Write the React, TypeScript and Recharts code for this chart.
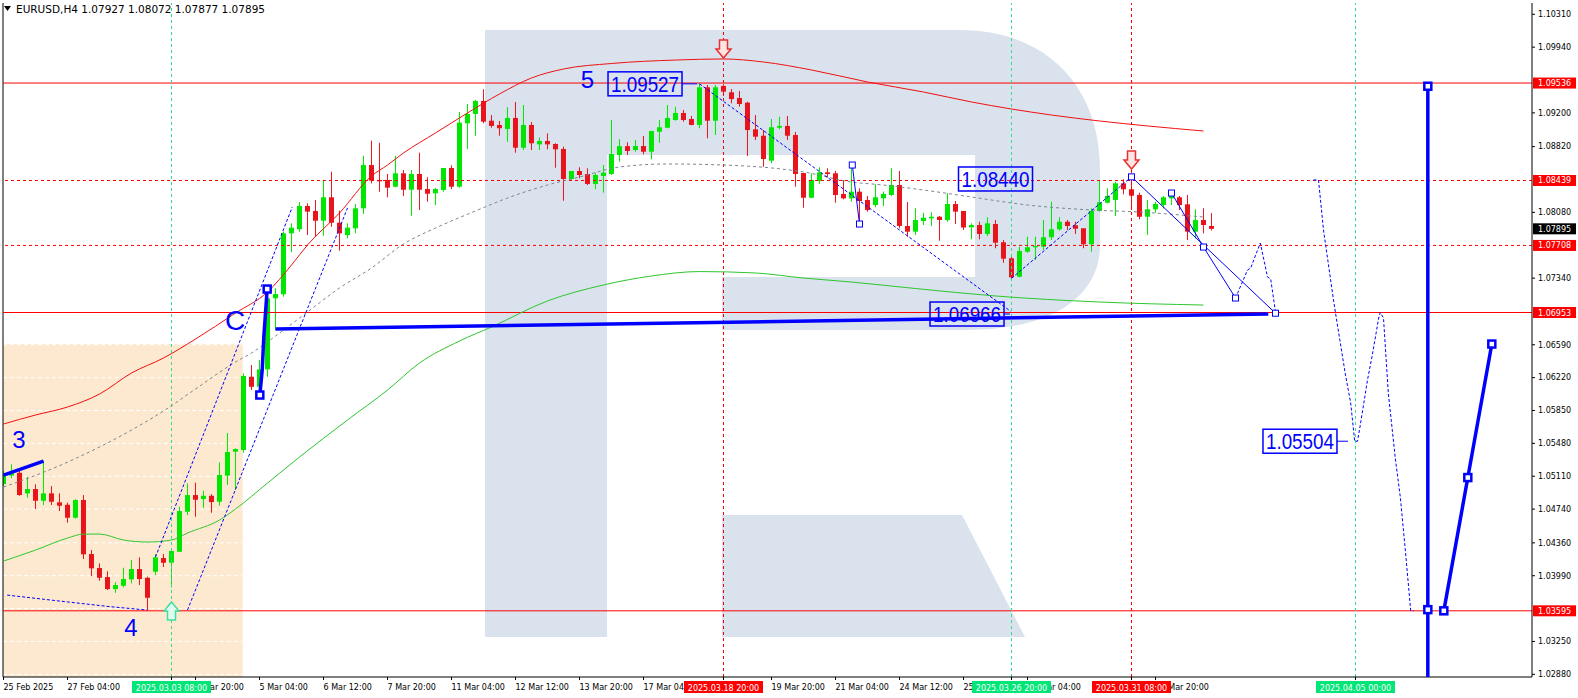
import React from 'react';
import {
  ComposedChart, Bar, Line, Scatter, XAxis, YAxis,
  ReferenceLine, ReferenceArea, ReferenceDot,
} from 'recharts';

const FONT = "'DejaVu Sans', sans-serif";
const BIG = "'Liberation Sans', Arial, sans-serif";
const UP = '#00e600';
const DOWN = '#e8141c';
const BLUE = '#0000ff';
const RED = '#ff0000';
const VGREEN = '#2ee08a';
const TAG_GREEN = '#00e676';
const BODY_W = 5;

const X_MIN = -0.0625;
const X_MAX = 191.0625;
const Y_MIN = 1.0285;
const Y_MAX = 1.10437;

// ---- candles (H4 bars, index 0 = first visible bar) ----
const OPEN = [
  1.05022,1.05117,1.05149,1.04917,1.04966,1.04834,1.04917,1.04816,1.04789,1.04643,
  1.04842,1.04234,1.04077,1.03975,1.03840,1.03877,1.03949,1.04065,1.03967,1.04035,
  1.04189,1.04136,1.04260,1.04710,1.04898,1.04853,1.04890,1.04823,1.05117,1.05386,
  1.05405,1.06230,1.06117,1.06313,1.07113,1.07158,1.07844,1.07890,1.08152,1.08096,
  1.07986,1.08250,1.07964,1.07825,1.07901,1.08126,1.08613,1.08445,1.08445,1.08369,
  1.08520,1.08335,1.08512,1.08343,1.08295,1.08332,1.08580,1.08369,1.09083,1.09188,
  1.09334,1.09112,1.09064,1.09019,1.09143,1.08808,1.09064,1.08846,1.08884,1.08850,
  1.08794,1.08456,1.08546,1.08512,1.08400,1.08490,1.08512,1.08726,1.08826,1.08782,
  1.08827,1.08763,1.08988,1.09033,1.09120,1.09199,1.09131,1.09064,1.09488,1.09112,
  1.09503,1.09432,1.09368,1.09315,1.09015,1.08943,1.08662,1.09033,1.09053,1.08951,
  1.08523,1.08245,1.08433,1.08531,1.08520,1.08287,1.08238,1.08313,1.08220,1.08163,
  1.08238,1.08276,1.08388,1.07927,1.07863,1.07983,1.08013,1.08031,1.07994,1.08174,
  1.08096,1.07912,1.07938,1.07837,1.07949,1.07744,1.07563,1.07356,1.07637,1.07687,
  1.07694,1.07800,1.07890,1.07975,1.07935,1.07901,1.07721,1.08096,1.08189,1.08220,
  1.08407,1.08340,1.08276,1.08031,1.08115,1.08163,1.08238,1.08250,1.08171,1.07863,
  1.07994,1.07927,
];
const HIGH = [
  1.05169,1.05244,1.05184,1.05104,1.05019,1.05285,1.04999,1.04917,1.04812,1.04850,
  1.04898,1.04279,1.04129,1.04039,1.03919,1.04080,1.04166,1.04197,1.03979,1.04234,
  1.04234,1.04298,1.04767,1.05030,1.05037,1.04947,1.04909,1.05266,1.05596,1.05424,
  1.06268,1.06362,1.06418,1.07131,1.07225,1.07863,1.07957,1.08197,1.08182,1.08220,
  1.08445,1.08538,1.08099,1.07957,1.08174,1.08718,1.08887,1.08864,1.08512,1.08715,
  1.08557,1.08557,1.08752,1.08475,1.08354,1.08580,1.08610,1.09210,1.09300,1.09345,
  1.09466,1.09176,1.09109,1.09263,1.09323,1.09289,1.09097,1.08925,1.08970,1.08858,
  1.08820,1.08546,1.08588,1.08576,1.08527,1.08613,1.09120,1.08903,1.08869,1.08895,
  1.08940,1.08999,1.09120,1.09289,1.09270,1.09233,1.09165,1.09527,1.09514,1.09514,
  1.09523,1.09469,1.09447,1.09326,1.09176,1.09007,1.09131,1.09157,1.09165,1.08985,
  1.08523,1.08520,1.08588,1.08576,1.08546,1.08445,1.08594,1.08351,1.08264,1.08396,
  1.08313,1.08576,1.08546,1.08197,1.08126,1.08076,1.08081,1.08039,1.08295,1.08208,
  1.08096,1.07957,1.07975,1.08025,1.07994,1.07769,1.07589,1.07694,1.07806,1.07806,
  1.07994,1.08200,1.08025,1.07994,1.07975,1.07901,1.08126,1.08445,1.08351,1.08425,
  1.08452,1.08480,1.08302,1.08220,1.08200,1.08264,1.08313,1.08264,1.08276,1.08115,
  1.08126,1.08072,
];
const LOW = [
  1.04999,1.05087,1.04890,1.04868,1.04741,1.04786,1.04786,1.04718,1.04587,1.04632,
  1.04178,1.03986,1.03934,1.03829,1.03798,1.03859,1.03904,1.03885,1.03597,1.03998,
  1.04088,1.03859,1.04260,1.04673,1.04654,1.04755,1.04699,1.04778,1.05011,1.04955,
  1.05375,1.06080,1.06024,1.06230,1.06756,1.07131,1.07631,1.07863,1.07825,1.07806,
  1.07817,1.07919,1.07649,1.07788,1.07844,1.08062,1.08407,1.08313,1.08250,1.08362,
  1.08264,1.08043,1.08107,1.08200,1.08163,1.08313,1.08343,1.08358,1.08794,1.08943,
  1.09083,1.09033,1.08943,1.08876,1.08752,1.08782,1.08782,1.08782,1.08790,1.08583,
  1.08211,1.08445,1.08464,1.08388,1.08340,1.08302,1.08501,1.08651,1.08726,1.08763,
  1.08734,1.08678,1.08864,1.09027,1.09112,1.09101,1.09060,1.09027,1.08914,1.08951,
  1.09390,1.09308,1.09270,1.08715,1.08895,1.08594,1.08633,1.09015,1.08895,1.08369,
  1.08133,1.08238,1.08400,1.08475,1.08189,1.08227,1.08200,1.07975,1.08088,1.08137,
  1.08152,1.08264,1.07901,1.07806,1.07825,1.07938,1.07927,1.07761,1.07975,1.07949,
  1.07882,1.07777,1.07777,1.07814,1.07676,1.07513,1.07338,1.07349,1.07626,1.07544,
  1.07657,1.07769,1.07874,1.07882,1.07837,1.07676,1.07637,1.08088,1.08182,1.08039,
  1.08284,1.08107,1.08002,1.07825,1.08076,1.08126,1.08163,1.08107,1.07769,1.07788,
  1.07844,1.07877,
];
const CLOSE = [
  1.05143,1.05143,1.04898,1.04966,1.04834,1.04917,1.04823,1.04778,1.04643,1.04842,
  1.04231,1.04073,1.03967,1.03840,1.03885,1.03953,1.04065,1.03953,1.03742,1.04197,
  1.04136,1.04268,1.04718,1.04898,1.04845,1.04890,1.04819,1.05124,1.05383,1.05416,
  1.06238,1.06117,1.06313,1.07113,1.07161,1.07844,1.07908,1.08152,1.08088,1.07986,
  1.08250,1.07964,1.07844,1.07908,1.08126,1.08613,1.08437,1.08430,1.08358,1.08520,
  1.08335,1.08512,1.08335,1.08290,1.08343,1.08580,1.08369,1.09090,1.09188,1.09334,
  1.09101,1.09053,1.09027,1.09143,1.08808,1.09064,1.08858,1.08884,1.08846,1.08790,
  1.08456,1.08546,1.08501,1.08400,1.08501,1.08527,1.08737,1.08826,1.08771,1.08827,
  1.08763,1.08996,1.09038,1.09143,1.09199,1.09120,1.09064,1.09488,1.09112,1.09488,
  1.09439,1.09356,1.09300,1.09007,1.08932,1.08681,1.09038,1.09053,1.08943,1.08512,
  1.08245,1.08445,1.08531,1.08512,1.08276,1.08238,1.08313,1.08208,1.08107,1.08250,
  1.08287,1.08388,1.07927,1.07863,1.07994,1.08020,1.08031,1.07994,1.08174,1.08088,
  1.07910,1.07938,1.07837,1.07957,1.07739,1.07559,1.07349,1.07645,1.07687,1.07701,
  1.07800,1.07890,1.07975,1.07927,1.07896,1.07721,1.08096,1.08193,1.08264,1.08407,
  1.08340,1.08268,1.08031,1.08115,1.08174,1.08250,1.08264,1.08163,1.07863,1.07994,
  1.07938,1.07895,
];

// ---- moving averages, read at sample bars [barIndex, price] ----
const RED_MA = [
  [0,1.05698],[4,1.05799],[8,1.05889],[12,1.06035],[16,1.06272],[20,1.06441],[24,1.06654],
  [29,1.06947],[33,1.07184],[36,1.07488],[38,1.07713],[42,1.08073],[46,1.08490],[48,1.08613],
  [50,1.08749],[54,1.08974],[58,1.09199],[62,1.09413],[66,1.09593],[70,1.09694],[76,1.09756],
  [84,1.09795],[90,1.09807],[95,1.09773],[101,1.09683],[108,1.09548],[115,1.09435],
  [121,1.09323],[131,1.09176],[137,1.09109],[143,1.09053],[150,1.08996],
];
const GREEN_MA = [
  [0,1.04155],[4,1.04279],[8,1.04414],[10,1.04459],[12,1.04459],[15,1.04392],[18,1.04369],
  [21,1.04392],[23,1.04471],[27,1.04617],[29,1.04741],[33,1.05033],[37,1.05326],[43,1.05743],
  [48,1.06080],[52,1.06384],[57,1.06632],[61,1.06790],[68,1.07083],[75,1.07263],[81,1.07364],
  [87,1.07414],[94,1.07398],[100,1.07341],[106,1.07296],[114,1.07223],[124,1.07139],
  [137,1.07071],[150,1.07037],
];
const GREY_MA = [
  [0,1.04988],[6,1.05191],[12,1.05439],[16,1.05630],[20,1.05844],[24,1.06092],[29,1.06396],
  [31,1.06497],[34,1.06688],[38,1.06959],[42,1.07229],[46,1.07454],[50,1.07724],[54,1.07904],
  [59,1.08096],[63,1.08242],[68,1.08388],[72,1.08478],[77,1.08591],[83,1.08625],[90,1.08613],
  [96,1.08580],[100,1.08535],[106,1.08422],[110,1.08388],[115,1.08332],[121,1.08253],
  [128,1.08163],[136,1.08107],[142,1.08084],[150,1.08028],
];

// ---- axes ----
// labels of the time axis (bars 16, 88 and 136 are fully hidden behind the time tags)
const X_TICKS = [0,8,24,32,40,48,56,64,72,80,96,104,112,120,128,144];
const X_TICK_LABELS = [
  '25 Feb 2025','27 Feb 04:00','3 Mar 20:00','5 Mar 04:00','6 Mar 12:00',
  '7 Mar 20:00','11 Mar 04:00','12 Mar 12:00','13 Mar 20:00','17 Mar 04:00',
  '19 Mar 20:00','21 Mar 04:00','24 Mar 12:00','25 Mar 20:00','27 Mar 04:00',
  '31 Mar 20:00',
];
const Y_TICKS = [
  1.10310,1.09940,1.09200,1.08820,1.08080,1.07340,1.06590,1.06220,1.05850,1.05480,
  1.05110,1.04740,1.04360,1.03990,1.03250,1.02880,
];
const GRID_LEVELS = [1.06590,1.06220,1.05850,1.05480,1.05110,1.04740,1.04360,1.03990,1.03620,1.03250,1.02880];

// ---- levels & time markers ----
const SOLID_LEVELS = [1.09536, 1.06953, 1.03595];
const DASHED_LEVELS = [1.08439, 1.07708];
const GREEN_TIMES = [21, 126, 169];
const GREEN_TIME_LABELS = ['2025.03.03 08:00', '2025.03.26 20:00', '2025.04.05 00:00'];
const RED_TIMES = [90, 141];
const RED_TIME_LABELS = ['2025.03.18 20:00', '2025.03.31 08:00'];
const ORANGE_TOP = 1.0660;
const ORANGE_RIGHT = 29.9;
const LOGO_BOX = { x1: 60.19, x2: 137.06, y1: 1.0330, y2: 1.10133 };

// ---- wave annotations ----
const WAVE_LABELS = [
  { t: '3', x: 1.94, y: 1.05529, size: 24 },
  { t: '4', x: 15.94, y: 1.03412, size: 24 },
  { t: 'C', x: 28.94, y: 1.06868, size: 28 },
  { t: '5', x: 73, y: 1.09582, size: 24 },
];
const PRICE_BOXES = [
  { t: '1.09527', x: 80.19, y: 1.09527, tail: 15 },
  { t: '1.08440', x: 124, y: 1.08456, tail: 0 },
  { t: '1.06966', x: 120.44, y: 1.06936, tail: 6 },
  { t: '1.05504', x: 162.06, y: 1.05504, tail: 11 },
];
const DASHED_PATHS = [
  [[0.46,1.03772],[6.71,1.03708],[13.4,1.03641],[17.96,1.03604]],
  [[19,1.04200],[36.1,1.08141]],
  [[23,1.03604],[43,1.08129]],
  [[87,1.09527],[125.9,1.06966]],
  [[126,1.07338],[141,1.08480]],
  [[154,1.07116],[155.5,1.07431],[155.9,1.07454],[157.1,1.07735],[158,1.07353],[158.4,1.07330],[159,1.06959]],
  [[163.75,1.08445],[164.375,1.08445],[165,1.07882],[166.25,1.07094],[166.6,1.06891],[167.75,1.06249],
   [168.4,1.05934],[168.9,1.05504],[169.25,1.05504],[169.6,1.05686],[170.5,1.06193],[171.1,1.06474],
   [171.9,1.06891],[172.1,1.06953],[172.5,1.06891],[173.1,1.06047],[174,1.05292],[174.6,1.04876],
   [175.25,1.04257],[175.9,1.03595],[176.25,1.03595]],
];
const THIN_PATHS = [
  [[141,1.08480],[159,1.06945]],
  [[146,1.08298],[150,1.07690],[154,1.07116]],
  [[106.1,1.08613],[107,1.07949]],
];
const THICK_PATHS = [
  [[0,1.05123],[5,1.05281]],
  [[32.04,1.06024],[32.34,1.06306],[32.54,1.06677],[32.96,1.07217]],
  [[34,1.06767],[158.1,1.06936]],
  [[178.04,1.09500],[178.04,1.0285]],
  [[180.04,1.03595],[183.04,1.05095],[186.04,1.06598]],
];
const THIN_MARKS = [[141,1.08480],[146,1.08298],[150,1.07690],[154,1.07116],[159,1.06945],[106.1,1.08613],[107,1.07949]];
const THICK_MARKS = [[32.04,1.06024],[32.96,1.07217],[178.04,1.09500],[178.04,1.03608],[180.04,1.03595],[183.04,1.05095],[186.04,1.06598]];
const DOWN_ARROWS = [[90,1.09818],[141,1.08568]];
const UP_ARROWS = [[21,1.03694]];

// ---- build chart rows ----
const rows: any[] = OPEN.map((o, i) => ({
  x: i, o, h: HIGH[i], l: LOW[i], c: CLOSE[i], range: [LOW[i], HIGH[i]],
}));
RED_MA.forEach(([i, v]) => { rows[i].maRed = v; });
GREEN_MA.forEach(([i, v]) => { rows[i].maGreen = v; });
GREY_MA.forEach(([i, v]) => { rows[i].maGrey = v; });
const LAST = OPEN.length - 1;

// time-axis entries: plain labels first, coloured time tags last so they are painted on top
const TAGS: Record<number, { text: string; bg: string }> = {};
GREEN_TIMES.forEach((t, k) => { TAGS[t] = { text: GREEN_TIME_LABELS[k], bg: TAG_GREEN }; });
RED_TIMES.forEach((t, k) => { TAGS[t] = { text: RED_TIME_LABELS[k], bg: RED }; });
const AXIS_TICKS = [...X_TICKS, ...GREEN_TIMES, ...RED_TIMES];

const Candle = (props: any) => {
  const { x, y, width, height, payload } = props;
  if (!payload || payload.h == null || x == null || y == null) return <g />;
  const top = Math.min(y, y + height);
  const hh = Math.abs(height);
  const { o, h, l, c } = payload;
  const span = h - l || 1e-9;
  const py = (v: number) => top + ((h - v) / span) * hh;
  const color = c >= o ? UP : DOWN;
  const cx = x + (width || 0) / 2;
  const b1 = py(Math.max(o, c));
  const b2 = py(Math.min(o, c));
  return (
    <g>
      <line x1={cx} x2={cx} y1={top} y2={top + hh} stroke={color} strokeWidth={1} />
      <rect x={cx - BODY_W / 2} y={b1} width={BODY_W} height={Math.max(1, b2 - b1)} fill={color} />
    </g>
  );
};

const OrangeShape = (p: any) => {
  const { x, y, width, height } = p;
  const py = (v: number) => y + ((ORANGE_TOP - v) / (ORANGE_TOP - Y_MIN)) * height;
  return (
    <g>
      <rect x={x} y={y} width={width} height={height} fill="#fde9cf" />
      {GRID_LEVELS.map((v) => (
        <line key={v} x1={x} x2={x + width} y1={py(v)} y2={py(v)} stroke="#ffffff" strokeDasharray="4 3" />
      ))}
    </g>
  );
};

const LogoShape = (p: any) => {
  const { x, y, width, height } = p;
  const sx = width / 615;
  const sy = height / 607;
  const P = (a: number, b: number) => `${(x + a * sx).toFixed(1)},${(y + b * sy).toFixed(1)}`;
  const d =
    `M${P(0, 0)} L${P(475, 0)} C${P(560, 0)} ${P(615, 55)} ${P(615, 140)} L${P(615, 215)} ` +
    `C${P(615, 265)} ${P(570, 300)} ${P(480, 300)} L${P(237, 300)} L${P(237, 247)} L${P(490, 247)} ` +
    `L${P(490, 125)} L${P(122, 125)} L${P(122, 607)} L${P(0, 607)} Z ` +
    `M${P(237, 485)} L${P(477, 485)} L${P(540, 607)} L${P(237, 607)} Z`;
  return <path d={d} fill="#d9e2ed" />;
};

const XTick = (props: any) => {
  const { x, y, payload } = props;
  const v = payload.value;
  const tag = TAGS[v];
  if (tag) {
    return (
      <g>
        <rect x={x - 39.5} y={y - 1} width={79} height={12} fill={tag.bg} />
        <text x={x} y={y + 8.5} textAnchor="middle" fontSize={8} fontFamily={FONT} fill="#fff">
          {tag.text}
        </text>
      </g>
    );
  }
  const idx = X_TICKS.indexOf(v);
  return (
    <text x={x} y={y + 8} fontSize={8} fontFamily={FONT} fill="#000">
      {X_TICK_LABELS[idx] || ''}
    </text>
  );
};

const PriceTag = (props: any) => {
  const vb = props.viewBox || props;
  const x = vb.x + (vb.width || 0);
  const y = vb.y;
  return (
    <g>
      <rect x={x + 1} y={y - 5.5} width={43} height={11} fill={props.bg} />
      <text x={x + 6} y={y + 3} fontSize={8} fontFamily={FONT} fill="#fff">
        {props.text}
      </text>
    </g>
  );
};

const Empty = () => <g />;

const arrowShape = (dir: number, stroke: string, fill: string) => (p: any) => {
  const { cx, cy } = p;
  const pts = [[-4, -18], [4, -18], [4, -9], [7.5, -9], [0, 0], [-7.5, -9], [-4, -9]]
    .map(([dx, dy]) => `${cx + dx},${cy + dy * dir}`)
    .join(' ');
  return <polygon points={pts} fill={fill} stroke={stroke} strokeWidth={1.5} />;
};

const toPts = (arr: number[][]) => arr.map(([x, y]) => ({ x, y }));

export default function App() {
  const c = CLOSE[LAST];
  const header = `EURUSD,H4 ${OPEN[LAST].toFixed(5)} ${HIGH[LAST].toFixed(5)} ${LOW[LAST].toFixed(5)} ${c.toFixed(5)}`;
  return (
    <div style={{ position: 'absolute', left: 0, top: 0, width: 1578, height: 698, background: '#fff' }}>
      <ComposedChart
        width={1578}
        height={698}
        data={rows}
        margin={{ top: 3, right: 0, bottom: 0, left: 3 }}
      >
        <ReferenceArea
          x1={LOGO_BOX.x1} x2={LOGO_BOX.x2} y1={LOGO_BOX.y1} y2={LOGO_BOX.y2}
          shape={(p: any) => <LogoShape {...p} />}
          ifOverflow="visible"
        />
        <ReferenceArea
          x1={X_MIN} x2={ORANGE_RIGHT} y1={Y_MIN} y2={ORANGE_TOP}
          shape={(p: any) => <OrangeShape {...p} />}
          ifOverflow="visible"
        />
        <ReferenceLine x={X_MIN} stroke="#000" ifOverflow="visible" />

        {SOLID_LEVELS.map((v) => (
          <ReferenceLine key={'s' + v} y={v} stroke={RED} strokeWidth={1}
            label={<PriceTag text={v.toFixed(5)} bg={RED} />} />
        ))}
        {DASHED_LEVELS.map((v) => (
          <ReferenceLine key={'d' + v} y={v} stroke={RED} strokeDasharray="3 3"
            label={<PriceTag text={v.toFixed(5)} bg={RED} />} />
        ))}
        {GREEN_TIMES.map((t) => (
          <ReferenceLine key={'g' + t} x={t} stroke={VGREEN} strokeDasharray="3 3" />
        ))}
        {RED_TIMES.map((t) => (
          <ReferenceLine key={'r' + t} x={t} stroke={RED} strokeDasharray="3 3" />
        ))}
        <ReferenceLine y={c} stroke="none" label={<PriceTag text={c.toFixed(5)} bg="#000" />} />

        <Line dataKey="maGrey" stroke="#7d8591" strokeWidth={1} strokeDasharray="3 3" dot={false}
          connectNulls type="monotone" isAnimationActive={false} />
        <Line dataKey="maGreen" stroke="#2ec62e" strokeWidth={1} dot={false}
          connectNulls type="monotone" isAnimationActive={false} />
        <Line dataKey="maRed" stroke="#f01010" strokeWidth={1} dot={false}
          connectNulls type="monotone" isAnimationActive={false} />

        <Bar dataKey="range" barSize={BODY_W} shape={(p: any) => <Candle {...p} />} isAnimationActive={false} />

        {DASHED_PATHS.map((path, k) => (
          <Scatter key={'dp' + k} data={toPts(path)} dataKey="y" fill={BLUE}
            line={{ stroke: BLUE, strokeWidth: 1, strokeDasharray: '3 2' }} lineType="joint"
            shape={Empty} isAnimationActive={false} />
        ))}
        {THIN_PATHS.map((path, k) => (
          <Scatter key={'tp' + k} data={toPts(path)} dataKey="y" fill={BLUE}
            line={{ stroke: BLUE, strokeWidth: 1 }} lineType="joint"
            shape={Empty} isAnimationActive={false} />
        ))}
        {THICK_PATHS.map((path, k) => (
          <Scatter key={'kp' + k} data={toPts(path)} dataKey="y" fill={BLUE}
            line={{ stroke: BLUE, strokeWidth: 3.5 }} lineType="joint"
            shape={Empty} isAnimationActive={false} />
        ))}
        <Scatter data={toPts(THIN_MARKS)} dataKey="y" fill={BLUE} isAnimationActive={false}
          shape={(p: any) => <rect x={p.cx - 3} y={p.cy - 3} width={6} height={6} fill="#fff" stroke={BLUE} strokeWidth={1} />} />
        <Scatter data={toPts(THICK_MARKS)} dataKey="y" fill={BLUE} isAnimationActive={false}
          shape={(p: any) => <rect x={p.cx - 3.5} y={p.cy - 3.5} width={7} height={7} fill="#fff" stroke={BLUE} strokeWidth={2.5} />} />

        {DOWN_ARROWS.map(([x, y], k) => (
          <ReferenceDot key={'da' + k} x={x} y={y} r={0} ifOverflow="visible"
            shape={arrowShape(1, '#e83030', '#ffe4e4')} />
        ))}
        {UP_ARROWS.map(([x, y], k) => (
          <ReferenceDot key={'ua' + k} x={x} y={y} r={0} ifOverflow="visible"
            shape={arrowShape(-1, '#3ee0a0', '#e2fbef')} />
        ))}

        {WAVE_LABELS.map((w) => (
          <ReferenceDot key={'w' + w.t} x={w.x} y={w.y} r={0} ifOverflow="visible"
            shape={(p: any) => (
              <text x={p.cx} y={p.cy + w.size * 0.358} textAnchor="middle" fontSize={w.size}
                fontFamily={BIG} fill={BLUE}>{w.t}</text>
            )} />
        ))}
        {PRICE_BOXES.map((b) => (
          <ReferenceDot key={'b' + b.t} x={b.x} y={b.y} r={0} ifOverflow="visible"
            shape={(p: any) => (
              <g>
                <rect x={p.cx - 37} y={p.cy - 12} width={74} height={24} fill="none" stroke={BLUE} strokeWidth={1.5} />
                <text x={p.cx} y={p.cy + 22 * 0.358} textAnchor="middle" fontSize={22} fontFamily={BIG}
                  fill={BLUE} textLength={68} lengthAdjust="spacingAndGlyphs">{b.t}</text>
                {b.tail > 0 && (
                  <line x1={p.cx + 37} x2={p.cx + 37 + b.tail} y1={p.cy} y2={p.cy} stroke={BLUE} strokeWidth={1} />
                )}
              </g>
            )} />
        ))}

        <XAxis
          dataKey="x"
          type="number"
          domain={[X_MIN, X_MAX]}
          ticks={AXIS_TICKS}
          interval={0}
          allowDataOverflow
          height={21}
          tickSize={3}
          tickMargin={2}
          tick={(p: any) => <XTick {...p} />}
          axisLine={{ stroke: '#000' }}
          tickLine={{ stroke: '#000' }}
        />
        <YAxis
          orientation="right"
          type="number"
          domain={[Y_MIN, Y_MAX]}
          ticks={Y_TICKS}
          interval={0}
          allowDataOverflow
          width={46}
          tickSize={3}
          tickMargin={3}
          tickFormatter={(v: number) => v.toFixed(5)}
          tick={{ fontSize: 8, fontFamily: FONT, fill: '#000' }}
          axisLine={{ stroke: '#000' }}
          tickLine={{ stroke: '#000' }}
        />
      </ComposedChart>
      <div
        style={{
          position: 'absolute', left: 4, top: 3, display: 'flex', alignItems: 'center',
          fontFamily: FONT, fontSize: 10.5, color: '#000', lineHeight: '12px', whiteSpace: 'pre',
        }}
      >
        <svg width={8} height={6} style={{ marginRight: 4 }}>
          <polygon points="0,0 7,0 3.5,5" fill="#000" />
        </svg>
        <span>{header}</span>
      </div>
    </div>
  );
}
